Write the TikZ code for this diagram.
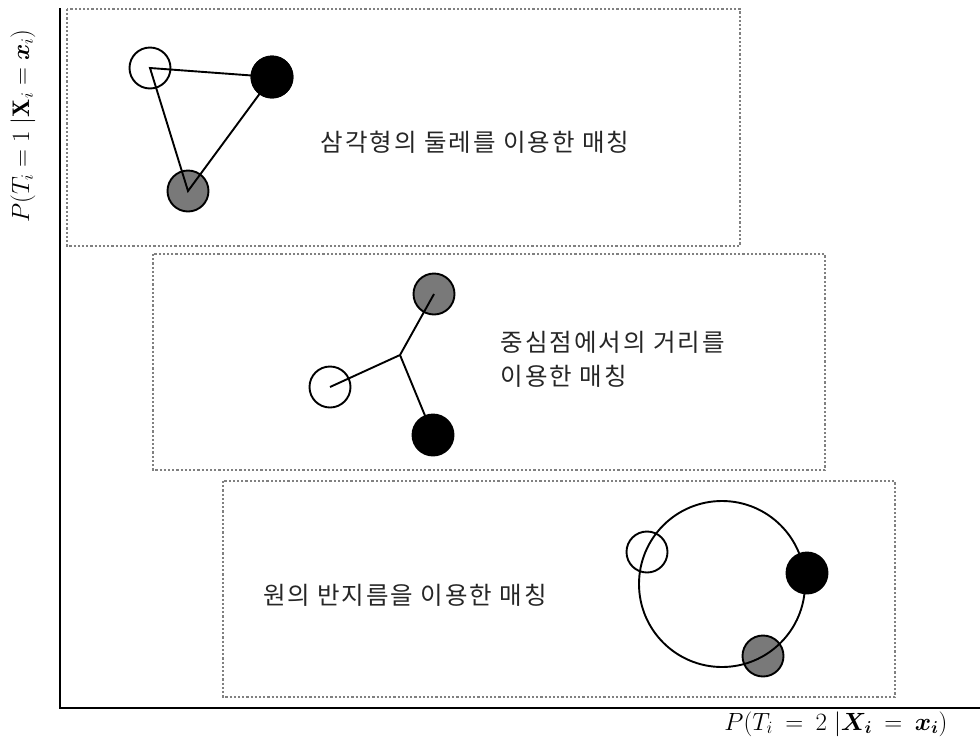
\documentclass[tikz,border=0pt]{standalone}
\usepackage{amsmath}
\usepackage{bm}
\usepackage{fontspec}
\newfontfamily\kr[LetterSpace=8]{Noto Sans CJK KR}
\begin{document}
\begin{tikzpicture}[x=1pt,y=-1pt,
  pt/.style={circle,draw=black,line width=1.9pt,minimum size=41pt,inner sep=0pt},
  wpt/.style={pt},
  bpt/.style={pt,fill=black},
  gpt/.style={pt,fill=gray!95!black},
  link/.style={line width=1.9pt},
  frame/.style={draw=black!50,line width=2.2pt,dash pattern=on 2.2pt off 2pt},
  lbl/.style={font=\kr\fontsize{24.5}{34}\selectfont,align=left,text=black!85}]
\useasboundingbox (0,0) rectangle (980,745);
% axes
\coordinate (o) at (60,708);
\coordinate (ytop) at (60,8);
\coordinate (xend) at (980,708);
\draw[line width=2.6pt] (ytop) -- (o) -- (xend);
\node[rotate=90,font=\fontsize{24}{28}\selectfont] (ylab) at (23,126) {$P(T_i=1\;|\mathbf{X}_i=\bm{x}_i)$};
\node[font=\fontsize{27}{30}\selectfont] (xlab) at (836,724) {$P(T_i\:=\:2\;|\bm{X_i}\:=\:\bm{x_i})$};
% frames
\draw[frame] (67,9) rectangle (740,246);
\draw[frame] (153,254) rectangle (825,470);
\draw[frame] (223,481) rectangle (895,697);
% box 1: triangle
\node[gpt] (g1) at (188,191) {};
\node[wpt] (w1) at (150,68) {};
\node[bpt] (b1) at (272,77) {};
\draw[link] (w1.center) -- (b1.center) -- (g1.center) -- cycle;
\node[bpt] at (b1) {};
\node[lbl] (t1) at (475,142) {삼각형의 둘레를 이용한 매칭};
% box 2: center point
\node[gpt] (g2) at (434,294) {};
\node[wpt] (w2) at (330,387) {};
\coordinate (c2) at (400,355);
\draw[link] (w2.center) -- (c2) -- (g2.center);
\draw[link] (c2) -- (433,435);
\node[bpt] (b2) at (433,435) {};
\node[lbl,anchor=west] (t2) at (497,359) {중심점에서의 거리를\\이용한 매칭};
% box 3: circle
\node[gpt] (g3) at (763,656) {};
\node[circle,draw,line width=1.9pt,minimum size=166pt,inner sep=0pt] (big) at (722,584) {};
\node[wpt] (w3) at (647,552) {};
\node[bpt] (b3) at (807,573) {};
\node[lbl] (t3) at (405,595) {원의 반지름을 이용한 매칭};
\end{tikzpicture}
\end{document}
